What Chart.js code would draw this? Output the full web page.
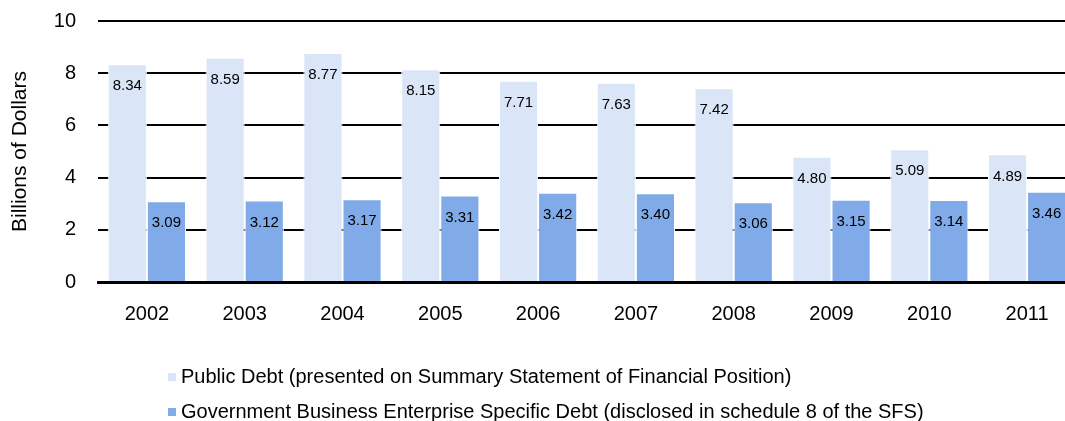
<!DOCTYPE html>
<html>
<head>
<meta charset="utf-8">
<script src="https://cdn.jsdelivr.net/npm/chart.js@4"></script>
<style>
  body { margin: 0; overflow: hidden; background: #fff; font-family: "Liberation Sans", Arial, sans-serif; }
  #wrap { position: relative; width: 1076px; height: 421px; overflow: hidden; }
  #chart { position: absolute; left: 0; top: -13px; }
  #legend { position: absolute; left: 168px; top: 364px; font-size: 20px; color: #000; }
  .item { height: 35px; line-height: 24px; white-space: nowrap; }
  .box { display: inline-block; width: 8px; height: 8px; margin-right: 5px; vertical-align: 2px; }
</style>
</head>
<body>
<div id="wrap">
  <canvas id="chart" width="1076" height="434"></canvas>
  <div id="legend"></div>
</div>
<script>
const years = ['2002', '2003', '2004', '2005', '2006', '2007', '2008', '2009', '2010', '2011'];
const publicDebt = [8.34, 8.59, 8.77, 8.15, 7.71, 7.63, 7.42, 4.80, 5.09, 4.89];
const gbeDebt = [3.09, 3.12, 3.17, 3.31, 3.42, 3.40, 3.06, 3.15, 3.14, 3.46];
const seriesNames = [
    'Public Debt (presented on Summary Statement of Financial Position)',
    'Government Business Enterprise Specific Debt (disclosed in schedule 8 of the SFS)'
];
const seriesColors = ['#DAE6F8', '#80AAE8'];

const FONT = '"Liberation Sans", Arial, sans-serif';

// draw value labels just under the top of each bar
const barLabels = {
    id: 'barLabels',
    afterDatasetsDraw(chart) {
        const ctx = chart.ctx;
        ctx.save();
        ctx.font = '15px ' + FONT;
        ctx.fillStyle = '#000';
        ctx.textAlign = 'center';
        ctx.textBaseline = 'middle';
        chart.data.datasets.forEach((ds, i) => {
            chart.getDatasetMeta(i).data.forEach((bar, j) => {
                ctx.fillText(ds.data[j].toFixed(2), bar.x, bar.y + 22);
            });
        });
        ctx.restore();
    }
};

new Chart(document.getElementById('chart'), {
    type: 'bar',
    data: {
        labels: years,
        datasets: [
            { label: seriesNames[0], data: publicDebt, backgroundColor: seriesColors[0] },
            { label: seriesNames[1], data: gbeDebt, backgroundColor: seriesColors[1] }
        ]
    },
    options: {
        responsive: false,
        animation: false,
        layout: { padding: { top: 7, right: 0, bottom: 0, left: 0 } },
        datasets: {
            bar: { categoryPercentage: 0.8, barPercentage: 1, borderWidth: 1, borderColor: '#fff' }
        },
        plugins: { legend: { display: false }, tooltip: { enabled: false } },
        scales: {
            x: {
                grid: { display: false, drawTicks: false },
                border: { display: true, color: '#000', width: 3, z: 1 },
                ticks: { color: '#000', padding: 20, font: { family: FONT, size: 20 } },
                afterFit(scale) { scale.height = 139; }
            },
            y: {
                min: 0,
                max: 10,
                ticks: { stepSize: 2, color: '#000', padding: 22, font: { family: FONT, size: 20 } },
                grid: { color: '#000', lineWidth: 2, drawTicks: false },
                border: { display: false },
                title: {
                    display: true,
                    text: 'Billions of Dollars',
                    color: '#000',
                    font: { family: FONT, size: 21 },
                    padding: { top: 8, bottom: 0 }
                },
                afterFit(scale) { scale.width = 98; }
            }
        }
    },
    plugins: [barLabels]
});

// legend
const legend = document.getElementById('legend');
seriesNames.forEach((name, i) => {
    const row = document.createElement('div');
    row.className = 'item';
    row.innerHTML = `<span class="box" style="background:${seriesColors[i]}"></span>${name}`;
    legend.appendChild(row);
});
</script>
</body>
</html>
